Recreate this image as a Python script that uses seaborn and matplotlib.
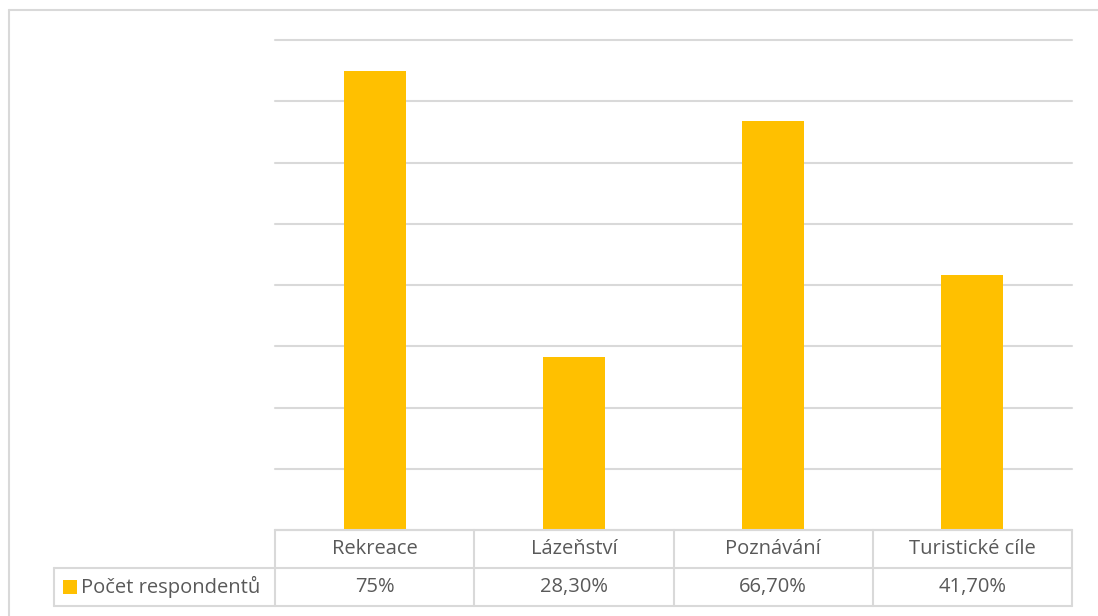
import matplotlib
matplotlib.use("Agg")
import matplotlib.pyplot as plt
import seaborn as sns
import pandas as pd
from matplotlib.lines import Line2D
from matplotlib.patches import Rectangle

categories = ["Rekreace", "Lázeňství", "Poznávání", "Turistické cíle"]
values = [0.75, 0.283, 0.667, 0.417]
value_labels = ["75%", "28,30%", "66,70%", "41,70%"]
series_name = "Počet respondentů"

bar_color = "#FFC000"
grid_color = "#D9D9D9"
text_color = "#595959"

sns.set_theme(style="white")
plt.rcParams["font.family"] = ["Open Sans", "DejaVu Sans"]

W, H = 1098, 616
fig = plt.figure(figsize=(W / 100, H / 100), dpi=100)
fig.patch.set_linewidth(0)
left, right, top, bottom = 275, 1072, 40, 530
ax = fig.add_axes([left / W, (H - bottom) / H, (right - left) / W, (bottom - top) / H])

df = pd.DataFrame({"cat": categories, "val": values})
sns.barplot(data=df, x="cat", y="val", color=bar_color, saturation=1, width=0.31,
            linewidth=0, ax=ax)

ax.set_ylim(0, 0.8)
ax.set_xlim(-0.5, len(categories) - 0.5)
ax.set_yticks([i / 10 for i in range(9)])
ax.yaxis.grid(True, color=grid_color, linewidth=1.5)
for gl in ax.yaxis.get_gridlines():
    gl.set_clip_on(False)
ax.set_axisbelow(True)
ax.set_yticklabels([])
ax.set_xticks([])
ax.tick_params(left=False, bottom=False)
ax.set_xlabel("")
ax.set_ylabel("")
for s in ax.spines.values():
    s.set_visible(False)

# data table under the plot
ph = bottom - top
row1 = -38 / ph
row2 = -76 / ph
tx = ax.get_xaxis_transform()
lw = 1.5
fs = 14.5
kw = dict(color=grid_color, linewidth=lw, clip_on=False, transform=tx)
cw = (right - left) / len(categories)
x_leg = -0.5 - (left - 54) / cw
for y in [0, row1, row2]:
    x0 = -0.5 if y == 0 else x_leg
    ax.add_line(Line2D([x0, len(categories) - 0.5], [y, y], **kw))
for i in range(len(categories) + 1):
    ax.add_line(Line2D([i - 0.5, i - 0.5], [0, row2], **kw))
ax.add_line(Line2D([x_leg, x_leg], [row1, row2], **kw))

for i, (c, v) in enumerate(zip(categories, value_labels)):
    ax.text(i, row1 / 2, c, ha="center", va="center", fontsize=fs, color=text_color, transform=tx)
    ax.text(i, (row1 + row2) / 2, v, ha="center", va="center", fontsize=fs, color=text_color, transform=tx)

ax.add_patch(Rectangle((x_leg + 9 / cw, (row1 + row2) / 2 - 7 / ph), 14 / cw, 14 / ph,
                       color=bar_color, linewidth=0, clip_on=False, transform=tx))
ax.text(x_leg + 27 / cw, (row1 + row2) / 2, series_name, ha="left", va="center",
        fontsize=fs, color=text_color, transform=tx)

# chart area border (continues beyond the right and bottom edges)
fig.add_artist(Line2D([9 / W, 9 / W], [0, 1 - 10 / H], color=grid_color, linewidth=1.5))
fig.add_artist(Line2D([9 / W, 1.02], [1 - 10 / H, 1 - 10 / H], color=grid_color, linewidth=1.5))

fig.savefig("out.png", dpi=100)
